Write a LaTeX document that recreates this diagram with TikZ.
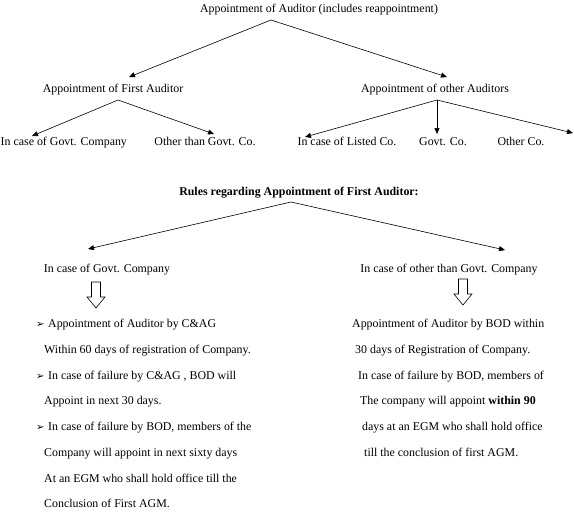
\documentclass[tikz,border=0pt]{standalone}
\usepackage{fontspec}
\setmainfont{Liberation Serif}
\newfontfamily\symfont{DejaVu Sans}
\usetikzlibrary{arrows.meta}
\begin{document}
\begin{tikzpicture}[x=1pt,y=-1pt,
  font=\fontsize{11.9}{14}\selectfont,
  arr/.style={-{Triangle[length=6pt,width=5pt]}, line width=0.6pt},
  lbl/.style={inner sep=0pt},
  txt/.style={anchor=base west, inner sep=0pt},
  bul/.style={anchor=base west, inner sep=0pt, font=\symfont\fontsize{10}{12}\selectfont},
  hollow/.style={draw, line width=0.6pt, fill=white}]
\useasboundingbox (0,0) rectangle (574,520);
% top tree
\node[lbl] (root) at (319,10) {Appointment of Auditor (includes reappointment)};
\node[lbl] (first) at (113,90) {Appointment of First Auditor};
\node[lbl] (other) at (435,90) {Appointment of other Auditors};
\node[lbl, anchor=base west] (gov1) at (0.5,145.5) {In case of Govt. Company};
\node[lbl, anchor=base] (oth1) at (205,145.5) {Other than Govt. Co.};
\node[lbl, anchor=base] (listed) at (347,145.5) {In case of Listed Co.};
\node[lbl, anchor=base] (govco) at (443,145.5) {Govt. Co.};
\node[lbl, anchor=base] (othco) at (521,145.5) {Other Co.};
\coordinate (rootS) at (271,20);
\coordinate (firstN) at (129,77);
\coordinate (otherN) at (447,77);
\coordinate (firstS) at (118,100);
\coordinate (otherS) at (437,100);
\coordinate (gov1N) at (32,136);
\coordinate (oth1N) at (214,134);
\coordinate (listedN) at (305,137);
\coordinate (govcoN) at (437,134);
\coordinate (othcoN) at (573,133);
\draw[arr] (rootS) -- (firstN);
\draw[arr] (rootS) -- (otherN);
\draw[arr] (firstS) -- (gov1N);
\draw[arr] (firstS) -- (oth1N);
\draw[arr] (otherS) -- (listedN);
\draw[arr] (otherS) -- (govcoN);
\draw[arr] (otherS) -- (othcoN);
% rules
\node[lbl, font=\fontsize{11.9}{14}\selectfont\bfseries] (rules) at (299,193) {Rules regarding Appointment of First Auditor:};
\node[lbl] (gov2) at (107,270) {In case of Govt. Company};
\node[lbl] (oth2) at (449,270) {In case of other than Govt. Company};
\coordinate (rulesS) at (291,202);
\coordinate (gov2N) at (88,249);
\coordinate (oth2N) at (505,250);
\draw[arr] (rulesS) -- (gov2N);
\draw[arr] (rulesS) -- (oth2N);
% hollow arrows
\coordinate (ha1) at (96,282);
\coordinate (ha2) at (463,279);
\draw[hollow] (ha1) ++(-4.5,0) -- ++(0,15) -- ++(-4.5,0) -- ++(9,11) -- ++(9,-11) -- ++(-4.5,0) -- ++(0,-15) -- cycle;
\draw[hollow] (ha2) ++(-4.5,0) -- ++(0,15) -- ++(-4.5,0) -- ++(9,11) -- ++(9,-11) -- ++(-4.5,0) -- ++(0,-15) -- cycle;
% left list
\node[bul] (b1) at (36,327) {➢};
\node[txt] (l1) at (48,327) {Appointment of Auditor by C\&AG};
\node[txt] (l2) at (44,353) {Within 60 days of registration of Company.};
\node[bul] (b2) at (36,379) {➢};
\node[txt] (l3) at (48,379) {In case of failure by C\&AG , BOD will};
\node[txt] (l4) at (44,404) {Appoint in next 30 days.};
\node[bul] (b3) at (36,430) {➢};
\node[txt] (l5) at (48,430) {In case of failure by BOD, members of the};
\node[txt] (l6) at (44,456) {Company will appoint in next sixty days};
\node[txt] (l7) at (44,482) {At an EGM who shall hold office till the};
\node[txt] (l8) at (44,507) {Conclusion of First AGM.};
% right list
\node[txt] (r1) at (352,327) {Appointment of Auditor by BOD within};
\node[txt] (r2) at (355,353) {30 days of Registration of Company.};
\node[txt] (r3) at (358,379) {In case of failure by BOD, members of};
\node[txt] (r4) at (360,404) {The company will appoint \textbf{within 90}};
\node[txt] (r5) at (362,430) {days at an EGM who shall hold office};
\node[txt] (r6) at (364,456) {till the conclusion of first AGM.};
\end{tikzpicture}
\end{document}
